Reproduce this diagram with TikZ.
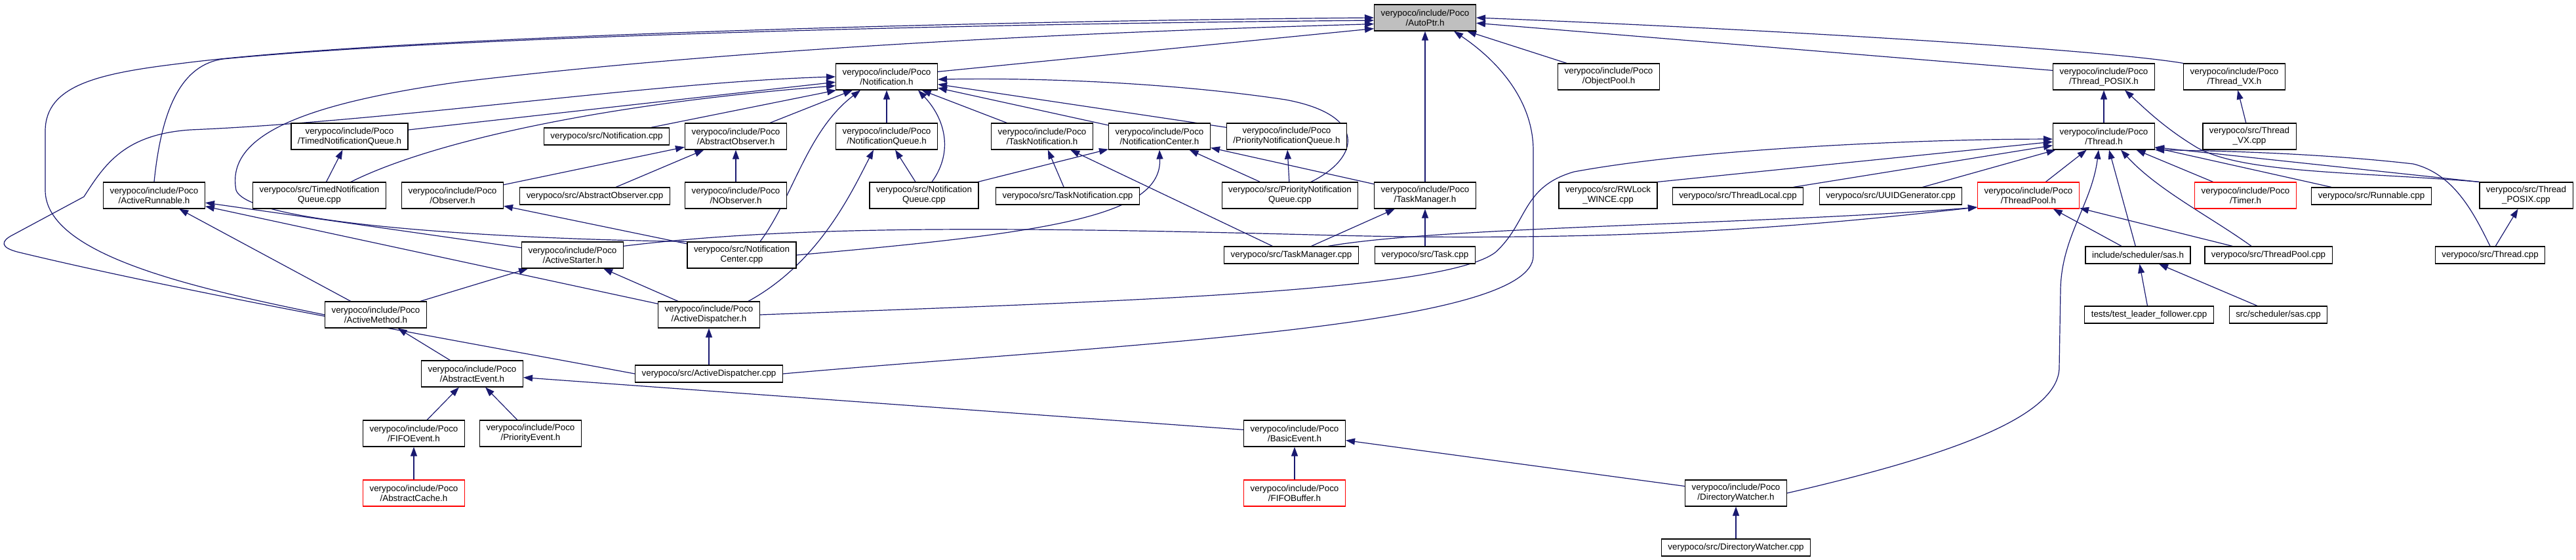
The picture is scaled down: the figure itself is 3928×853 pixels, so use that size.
\documentclass[tikz,border=0pt]{standalone}
\usepackage{fontspec}
\setmainfont{Liberation Sans}
\usepackage{tikz}
\usetikzlibrary{arrows.meta}
\definecolor{edgeblue}{RGB}{25,25,112}
\definecolor{rootgray}{RGB}{191,191,191}
\pgfdeclarelayer{background}
\pgfsetlayers{background,main}

\begin{document}
\begin{tikzpicture}[x=0.5pt, y=-0.5pt,
        file/.style={rectangle, draw=black, line width=0.6pt, fill=white, align=center, inner xsep=5pt, inner ysep=0pt, minimum height=20pt, font=\fontsize{6.7}{7.5}\selectfont},
        file1/.style={file, minimum height=13pt},
        rootfile/.style={file, fill=rootgray},
        trunc/.style={file, draw=red},
        dep/.style={draw=edgeblue, line width=0.6pt, -{Triangle[length=7pt,width=5pt]}}]

        \useasboundingbox (0,0) rectangle (3928,853);

        % row 0 and 1
        \node[rootfile] (autoptr) at (2173,27) {verypoco/include/Poco\\/AutoPtr.h};
        \node[file] (notif) at (1352,117) {verypoco/include/Poco\\/Notification.h};
        \node[file] (objpool) at (2453,117) {verypoco/include/Poco\\/ObjectPool.h};
        \node[file] (tposixh) at (3208,117) {verypoco/include/Poco\\/Thread\_POSIX.h};
        \node[file] (tvxh) at (3407,117) {verypoco/include/Poco\\/Thread\_VX.h};

        % row 2
        \node[file] (timedqh) at (533,208) {verypoco/include/Poco\\/TimedNotificationQueue.h};
        \node[file1] (notifcpp) at (925,208) {verypoco/src/Notification.cpp};
        \node[file] (absobsh) at (1122,208) {verypoco/include/Poco\\/AbstractObserver.h};
        \node[file] (nqueueh) at (1352,208) {verypoco/include/Poco\\/NotificationQueue.h};
        \node[file] (tasknotifh) at (1589,208) {verypoco/include/Poco\\/TaskNotification.h};
        \node[file] (ncenterh) at (1768,208) {verypoco/include/Poco\\/NotificationCenter.h};
        \node[file] (prioqh) at (1962,208) {verypoco/include/Poco\\/PriorityNotificationQueue.h};
        \node[file] (threadh) at (3208,208) {verypoco/include/Poco\\/Thread.h};
        \node[file] (tvxcpp) at (3430,208) {verypoco/src/Thread\\\_VX.cpp};

        % row 3
        \node[file] (activerunh) at (235,298) {verypoco/include/Poco\\/ActiveRunnable.h};
        \node[file] (timedqcpp) at (487,298) {verypoco/src/TimedNotification\\Queue.cpp};
        \node[file] (observerh) at (690,298) {verypoco/include/Poco\\/Observer.h};
        \node[file1] (absobscpp) at (907,299) {verypoco/src/AbstractObserver.cpp};
        \node[file] (nobserverh) at (1122,298) {verypoco/include/Poco\\/NObserver.h};
        \node[file] (nqueuecpp) at (1409,298) {verypoco/src/Notification\\Queue.cpp};
        \node[file1] (tasknotifcpp) at (1628,299) {verypoco/src/TaskNotification.cpp};
        \node[file] (prioqcpp) at (1967,298) {verypoco/src/PriorityNotification\\Queue.cpp};
        \node[file] (taskmgrh) at (2173,298) {verypoco/include/Poco\\/TaskManager.h};
        \node[file] (rwlockcpp) at (2452,298) {verypoco/src/RWLock\\\_WINCE.cpp};
        \node[file1] (tlocalcpp) at (2650,299) {verypoco/src/ThreadLocal.cpp};
        \node[file1] (uuidcpp) at (2883,299) {verypoco/src/UUIDGenerator.cpp};
        \node[trunc] (tpoolh) at (3093,298) {verypoco/include/Poco\\/ThreadPool.h};
        \node[trunc] (timerh) at (3424,298) {verypoco/include/Poco\\/Timer.h};
        \node[file1] (runnablecpp) at (3616,299) {verypoco/src/Runnable.cpp};
        \node[file] (tposixcpp) at (3852,298) {verypoco/src/Thread\\\_POSIX.cpp};

        % row 4
        \node[file] (activestarth) at (873,389) {verypoco/include/Poco\\/ActiveStarter.h};
        \node[file] (ncentercpp) at (1131,389) {verypoco/src/Notification\\Center.cpp};
        \node[file1] (taskmgrcpp) at (1969,389) {verypoco/src/TaskManager.cpp};
        \node[file1] (taskcpp) at (2173,389) {verypoco/src/Task.cpp};
        \node[file1] (sash) at (3260,389) {include/scheduler/sas.h};
        \node[file1] (tpoolcpp) at (3459,389) {verypoco/src/ThreadPool.cpp};
        \node[file1] (threadcpp) at (3797,389) {verypoco/src/Thread.cpp};

        % row 5 and 6
        \node[file] (activemethh) at (573,480) {verypoco/include/Poco\\/ActiveMethod.h};
        \node[file] (activedisph) at (1081,480) {verypoco/include/Poco\\/ActiveDispatcher.h};
        \node[file1] (testlf) at (3277,480) {tests/test\_leader\_follower.cpp};
        \node[file1] (sascpp) at (3474,480) {src/scheduler/sas.cpp};
        \node[file] (abseventh) at (720,570) {verypoco/include/Poco\\/AbstractEvent.h};
        \node[file1] (activedispcpp) at (1081,570) {verypoco/src/ActiveDispatcher.cpp};

        % row 7 to 9
        \node[file] (fifoeventh) at (631,661) {verypoco/include/Poco\\/FIFOEvent.h};
        \node[file] (prioeventh) at (809,661) {verypoco/include/Poco\\/PriorityEvent.h};
        \node[file] (basiceventh) at (1974,661) {verypoco/include/Poco\\/BasicEvent.h};
        \node[trunc] (abscacheh) at (631,752) {verypoco/include/Poco\\/AbstractCache.h};
        \node[trunc] (fifobufh) at (1974,752) {verypoco/include/Poco\\/FIFOBuffer.h};
        \node[file] (dirwatchh) at (2647,752) {verypoco/include/Poco\\/DirectoryWatcher.h};
        \node[file1] (dirwatchcpp) at (2647,835) {verypoco/src/DirectoryWatcher.cpp};

        \begin{pgfonlayer}{background}
        % AutoPtr.h
        \draw[dep] (activemethh.west) .. controls (300,440) and (69,390) .. (69,290) -- (69,200) .. controls (69,130) and (150,112) .. (274,97) .. controls (600,55) and (1500,32) .. (autoptr.west);
        \draw[dep] (activerunh.north) .. controls (245,180) and (270,100) .. (340,90) .. controls (700,55) and (1500,36) .. (autoptr.183);
        \draw[dep] (ncentercpp.north west) .. controls (800,365) and (380,345) .. (360,290) .. controls (345,210) and (450,160) .. (700,125) .. controls (1200,65) and (1800,45) .. (autoptr.187);
        \draw[dep] (notif) -- (autoptr.192);
        \draw[dep] (objpool) -- (autoptr);
        \draw[dep] (taskmgrh) -- (autoptr);
        \draw[dep] (activedispcpp.east) .. controls (1700,525) and (2338,500) .. (2338,390) -- (2338,230) .. controls (2338,150) and (2280,90) .. ([xshift=22pt]autoptr.south);
        \draw[dep] (tvxh.north west) .. controls (3200,75) and (2700,45) .. (autoptr.east);
        \draw[dep] (tposixh.173) -- (autoptr.-6);

        % Notification.h
        \draw[dep] (activedispcpp.west) .. controls (700,520) and (300,450) .. (30,385) .. controls (0,378) and (0,368) .. (20,358) -- (128,300) .. controls (160,250) and (190,205) .. (290,198) .. controls (600,185) and (1000,125) .. (notif.west);
        \draw[dep] (timedqh) -- (notif.186);
        \draw[dep] ([xshift=24pt]timedqcpp.north) .. controls (650,220) and (900,160) .. (notif.190);
        \draw[dep] (notifcpp) -- (notif.195);
        \draw[dep] (absobsh) -- (notif);
        \draw[dep] ([xshift=14pt]ncentercpp.north) .. controls (1210,300) and (1230,200) .. ([xshift=-20pt]notif.south);
        \draw[dep] (nqueueh) -- (notif);
        \draw[dep] ([xshift=6pt]nqueuecpp.north) .. controls (1455,230) and (1440,180) .. ([xshift=24pt]notif.south);
        \draw[dep] (tasknotifh) -- (notif);
        \draw[dep] (ncenterh) -- (notif);
        \draw[dep] (prioqh) -- (notif);
        \draw[dep] ([xshift=16pt]prioqcpp.north) .. controls (2075,240) and (2085,175) .. (1960,152) .. controls (1800,128) and (1600,118) .. (notif.-3);

        % AbstractObserver.h, Observer.h
        \draw[dep] (observerh) -- (absobsh);
        \draw[dep] (absobscpp) -- (absobsh);
        \draw[dep] (nobserverh) -- (absobsh);
        \draw[dep] (ncentercpp) -- (observerh);

        % NotificationQueue.h, TaskNotification.h
        \draw[dep] (nqueuecpp) -- (nqueueh);
        \draw[dep] ([xshift=30pt]activedisph.north) .. controls (1250,400) and (1300,290) .. ([xshift=-10pt]nqueueh.south);
        \draw[dep] (tasknotifcpp) -- (tasknotifh);
        \draw[dep] (taskmgrcpp) -- (tasknotifh);

        % NotificationCenter.h and the queues
        \draw[dep] (nqueuecpp) -- (ncenterh);
        \draw[dep] (ncentercpp.east) .. controls (1600,355) and (1772,330) .. (ncenterh.south);
        \draw[dep] (prioqcpp) -- (ncenterh);
        \draw[dep] (taskmgrh) -- (ncenterh);
        \draw[dep] (prioqcpp) -- (prioqh);
        \draw[dep] (timedqcpp) -- (timedqh);

        % Active* headers
        \draw[dep] (activemethh) -- (activerunh);
        \draw[dep] (activestarth) -- (activerunh);
        \draw[dep] (activedisph) -- (activerunh);
        \draw[dep] (activemethh) -- (activestarth);
        \draw[dep] (activedisph) -- (activestarth);
        \draw[dep] (abseventh) -- (activemethh);
        \draw[dep] (activedispcpp) -- (activedisph);

        % events
        \draw[dep] (fifoeventh) -- (abseventh);
        \draw[dep] (prioeventh) -- (abseventh);
        \draw[dep] (basiceventh) -- (abseventh);
        \draw[dep] (abscacheh) -- (fifoeventh);
        \draw[dep] (fifobufh) -- (basiceventh);
        \draw[dep] (dirwatchh) -- (basiceventh);
        \draw[dep] (dirwatchcpp) -- (dirwatchh);

        % TaskManager.h, ThreadPool.h, sas.h
        \draw[dep] (taskmgrcpp) -- (taskmgrh);
        \draw[dep] (taskcpp) -- (taskmgrh);
        \draw[dep] (activestarth.10) .. controls (1200,345) and (1500,345) .. (2000,358) .. controls (2500,372) and (2800,340) .. (tpoolh.193);
        \draw[dep] ([xshift=28pt]taskmgrcpp.north) .. controls (2200,345) and (2700,342) .. (tpoolh.193);
        \draw[dep] (sash) -- (tpoolh);
        \draw[dep] (tpoolcpp) -- (tpoolh);
        \draw[dep] (testlf) -- (sash);
        \draw[dep] (sascpp) -- (sash);

        % Thread.h
        \draw[dep] (activedisph.east) .. controls (1700,460) and (2200,445) .. (2280,385) .. controls (2330,340) and (2320,285) .. (2400,262) .. controls (2600,225) and (2950,212) .. (threadh.183);
        \draw[dep] (rwlockcpp.north east) -- (threadh.186);
        \draw[dep] (tlocalcpp) -- (threadh.190);
        \draw[dep] (uuidcpp) -- (threadh);
        \draw[dep] (tpoolh) -- (threadh);
        \draw[dep] (dirwatchh.east) .. controls (2950,700) and (3140,640) .. (3140,560) -- (3142,440) .. controls (3144,360) and (3190,310) .. ([xshift=-4pt]threadh.south);
        \draw[dep] (sash) -- ([xshift=4pt]threadh.south);
        \draw[dep] ([xshift=-13pt]tpoolcpp.north) .. controls (3370,330) and (3290,290) .. ([xshift=13pt]threadh.south);
        \draw[dep] (timerh) -- (threadh);
        \draw[dep] (runnablecpp) -- (threadh);
        \draw[dep] (threadcpp.north) .. controls (3770,320) and (3740,265) .. (3680,250) .. controls (3550,235) and (3400,230) .. (threadh.south east);
        \draw[dep] (tposixcpp.north west) -- (threadh.-12);

        % Thread_POSIX, Thread_VX
        \draw[dep] (threadh) -- (tposixh);
        \draw[dep] (tposixcpp.north west) .. controls (3600,262) and (3420,265) .. (3350,225) .. controls (3300,195) and (3270,165) .. ([xshift=16pt]tposixh.south);
        \draw[dep] (threadcpp) -- (tposixcpp);
        \draw[dep] (tvxcpp) -- (tvxh);
        \end{pgfonlayer}

    \end{tikzpicture}
\end{document}
